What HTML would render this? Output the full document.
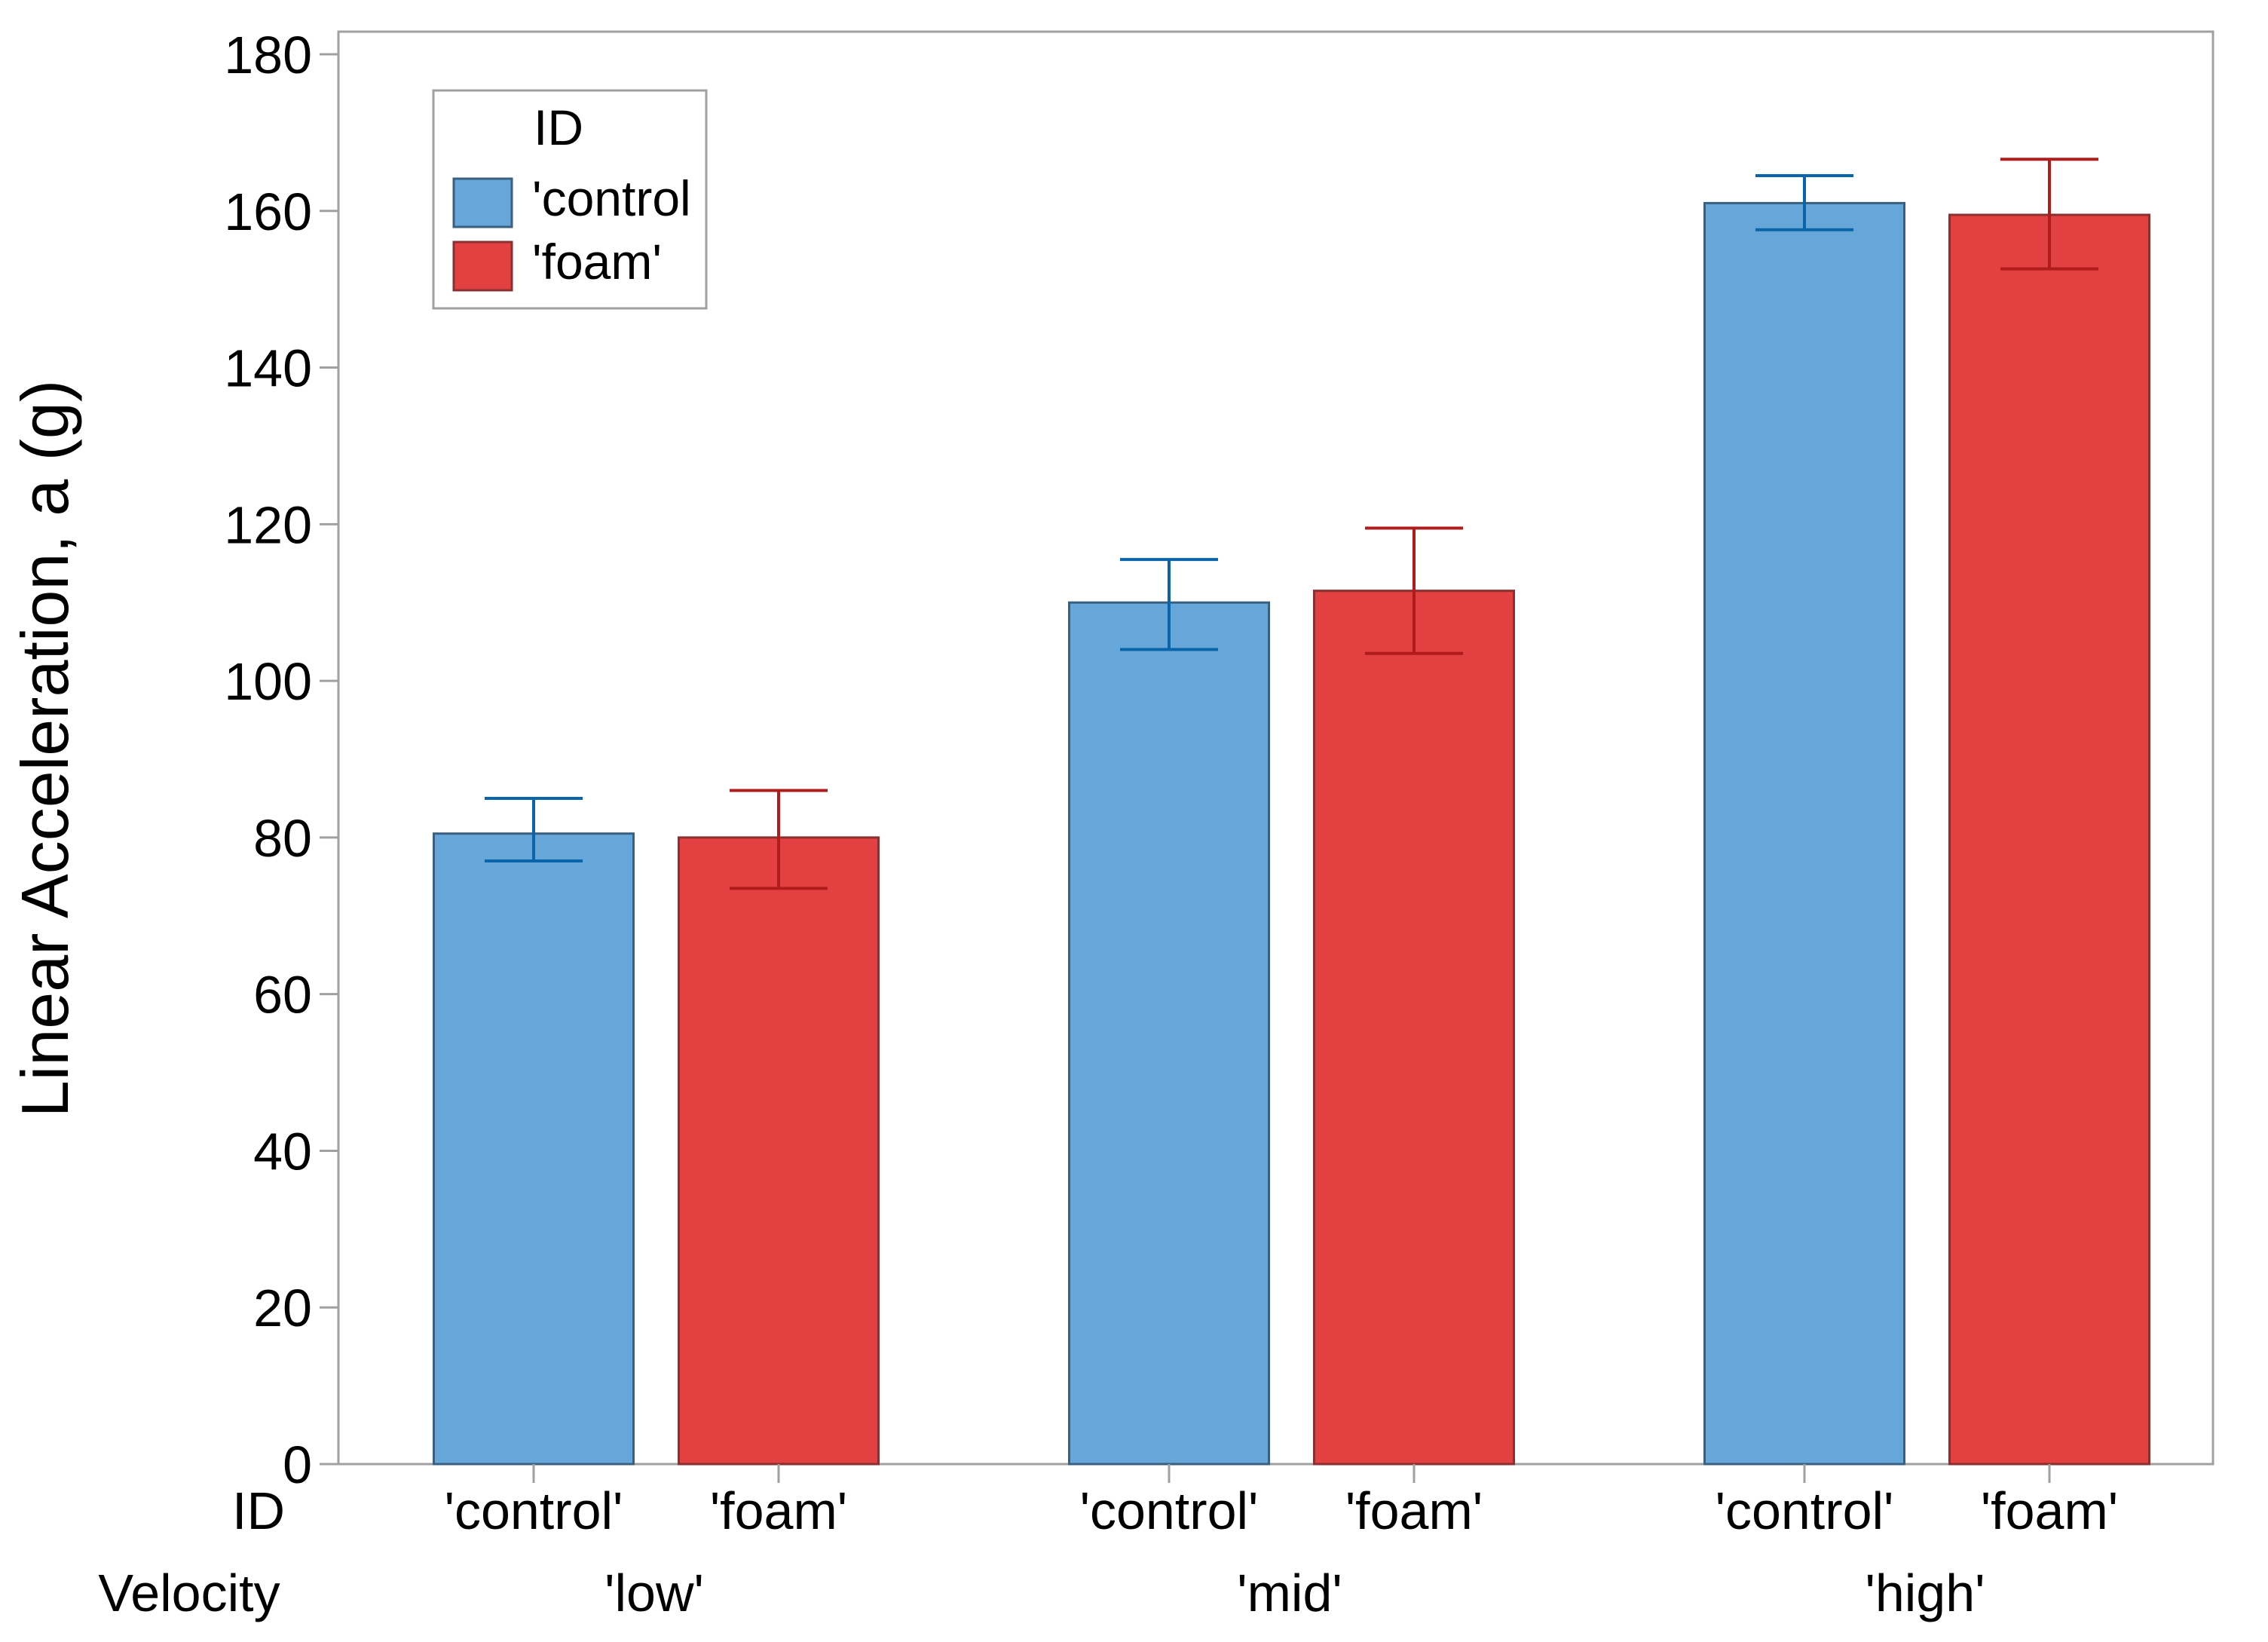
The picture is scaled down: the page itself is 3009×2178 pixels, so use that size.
<!DOCTYPE html>
<html><head><meta charset="utf-8"><style>
html,body{margin:0;padding:0;background:#fff;}
svg{display:block;}
text{font-family:"Liberation Sans",sans-serif;fill:#000;}
</style></head><body>
<svg id="chart" width="3009" height="2178" viewBox="0 0 3009 2178">
<rect x="449" y="42" width="2487" height="1900" fill="#fff" stroke="#a0a0a0" stroke-width="3"/>
<g id="yaxis"></g>
<g id="bars"></g>
<g id="xaxis"></g>
<text x="90" y="993" font-size="88" text-anchor="middle" transform="rotate(-90 90 993)">Linear Acceleration,  a (g)</text>
<text x="378" y="2028" font-size="70" text-anchor="end">ID</text>
<text x="251" y="2137" font-size="70" text-anchor="middle">Velocity</text>
<g>
<rect x="575" y="120" width="362" height="289" fill="#fff" stroke="#a0a0a0" stroke-width="3"/>
<text x="708" y="192" font-size="66">ID</text>
<rect x="602" y="237" width="77" height="64" fill="#66a6d9" stroke="#3b607f" stroke-width="3"/>
<text x="706" y="286" font-size="66">'control</text>
<rect x="602" y="321" width="77" height="64" fill="#e34141" stroke="#8a3030" stroke-width="3"/>
<text x="706" y="370" font-size="66">'foam'</text>
</g>
</svg>
<script>
const groups = ["'low'", "'mid'", "'high'"];
const ids = ["'control'", "'foam'"];
const controlMeans = [80.5, 110, 161];
const controlLow = [77, 104, 157.6];
const controlHigh = [85, 115.5, 164.5];
const foamMeans = [80, 111.5, 159.5];
const foamLow = [73.5, 103.5, 152.6];
const foamHigh = [86, 119.5, 166.6];
const yTicks = [0, 20, 40, 60, 80, 100, 120, 140, 160, 180];

const NS = "http://www.w3.org/2000/svg";
const y0 = 1942, yTop = 72, yMax = 180;
function yScale(v){ return y0 - (y0 - yTop) * v / yMax; }
function groupCenter(i){ return 868 + i * 843; }
function barCenter(g, s){ return groupCenter(g) + (s === 0 ? -160 : 165); }
const barW = 265, capW = 130;
function mk(tag, attrs, parent){
  const e = document.createElementNS(NS, tag);
  for (const k in attrs) e.setAttribute(k, attrs[k]);
  parent.appendChild(e); return e;
}
const ya = document.getElementById('yaxis');
yTicks.forEach(t => {
  const y = yScale(t);
  const l = mk('line', {x1: 424, x2: 449, y1: y, y2: y, stroke: '#a0a0a0', 'stroke-width': 3}, ya);
  
  
  const tx = mk('text', {x: 414, y: y + 25, 'font-size': 70, 'text-anchor': 'end'}, ya);
  tx.textContent = t;
  
  
});
const bg = document.getElementById('bars');
const xa = document.getElementById('xaxis');
const series = [
  {means: controlMeans, lo: controlLow, hi: controlHigh, fill: '#66a6d9', edge: '#3b607f', err: '#0a64aa', name: 'control'},
  {means: foamMeans, lo: foamLow, hi: foamHigh, fill: '#e34141', edge: '#8a3030', err: '#b01c1c', name: 'foam'}
];
groups.forEach((g, gi) => {
  series.forEach((s, si) => {
    const cx = barCenter(gi, si);
    const yt = yScale(s.means[gi]);
    const r = mk('rect', {x: cx - barW/2, y: yt, width: barW, height: y0 - yt, fill: s.fill, stroke: s.edge, 'stroke-width': 3}, bg);
    
    
    const yl = yScale(s.lo[gi]), yh = yScale(s.hi[gi]);
    const eg = mk('g', {stroke: s.err, 'stroke-width': 4}, bg);
    
    
    mk('line', {x1: cx, x2: cx, y1: yh, y2: yl}, eg);
    mk('line', {x1: cx - capW/2, x2: cx + capW/2, y1: yh, y2: yh}, eg);
    mk('line', {x1: cx - capW/2, x2: cx + capW/2, y1: yl, y2: yl}, eg);
    const tk = mk('line', {x1: cx, x2: cx, y1: y0, y2: y0 + 25, stroke: '#a0a0a0', 'stroke-width': 3}, xa);
    
    
    const lt = mk('text', {x: cx, y: 2028, 'font-size': 70, 'text-anchor': 'middle'}, xa);
    lt.textContent = ids[si];
    
    
  });
  const gt = mk('text', {x: groupCenter(gi), y: 2137, 'font-size': 70, 'text-anchor': 'middle'}, xa);
  gt.textContent = g;
  
  
});
</script>
</body></html>
